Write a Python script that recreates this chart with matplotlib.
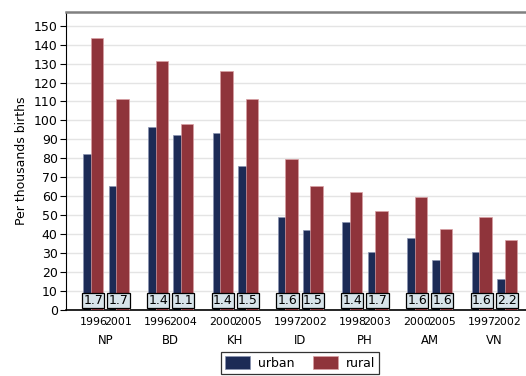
import matplotlib.pyplot as plt
import numpy as np
from matplotlib.patches import Patch
from matplotlib.transforms import blended_transform_factory

countries = ['NP', 'BD', 'KH', 'ID', 'PH', 'AM', 'VN']
years = [['1996', '2001'], ['1996', '2004'], ['2000', '2005'], ['1997', '2002'],
         ['1998', '2003'], ['2000', '2005'], ['1997', '2002']]
urban = [[82.5, 65.5], [96.5, 92.5], [93.5, 76.0], [48.8, 42.4],
         [46.3, 30.6], [37.9, 26.4], [30.6, 16.4]]
rural = [[143.5, 111.2], [131.5, 98.2], [126.3, 111.2], [79.8, 65.5],
         [62.3, 52.3], [59.7, 42.6], [48.8, 36.8]]
ratios = [['1.7', '1.7'], ['1.4', '1.1'], ['1.4', '1.5'], ['1.6', '1.5'],
          ['1.4', '1.7'], ['1.6', '1.6'], ['1.6', '2.2']]

c_urban = '#1c2b56'
c_rural = '#8f343b'

fig = plt.figure(figsize=(5.26, 3.76), dpi=100)
ax = fig.add_axes([66/526, 66/376, 460/526, 298/376])

px = 1/64.75          # one pixel in x units (group pitch = 1)
step = 25.2 * px      # offset between the two surveys in a group
for g in range(len(countries)):
    for j in range(2):
        c = g + j*step
        ax.bar(c - 10*px, urban[g][j], width=12*px, align='edge',
               color=c_urban, edgecolor='#8a93b0', linewidth=0.5, zorder=2)
        ax.bar(c - 2.4*px, rural[g][j], width=12.4*px, align='edge',
               color=c_rural, edgecolor='#d9a0a4', linewidth=0.5, zorder=3)
        ax.text(c, 5.0, ratios[g][j], ha='center', va='center', fontsize=9,
                color='black', zorder=4,
                bbox=dict(boxstyle='square,pad=0.1', fc='#d8e4ea',
                          ec='black', lw=0.9))

trans = blended_transform_factory(ax.transData, ax.transAxes)
for g in range(len(countries)):
    for j in range(2):
        ax.text(g + j*step, -0.039, years[g][j], transform=trans,
                ha='center', va='center', fontsize=7.9)
    ax.text(g + step/2, -0.104, countries[g], transform=trans,
            ha='center', va='center', fontsize=8.4)

ax.set_xlim(-27.3*px, 432.7*px)
ax.set_ylim(0, 157.2)
ax.set_xticks([])
ax.set_yticks(np.arange(0, 151, 10))
ax.tick_params(axis='y', length=4, width=0.8, labelsize=9, pad=2)
ax.yaxis.grid(True, color='#e4e4e4', linewidth=1.0)
ax.set_axisbelow(True)
ax.set_ylabel('Per thousands births', fontsize=9, labelpad=4)

ax.spines['right'].set_visible(False)
ax.spines['top'].set_color('#808080')
ax.spines['top'].set_linewidth(1.8)
ax.spines['left'].set_linewidth(0.8)
ax.spines['bottom'].set_linewidth(1.2)

handles = [Patch(fc=c_urban, ec='#8a93b0', lw=0.5, label='urban'),
           Patch(fc=c_rural, ec='#d9a0a4', lw=0.5, label='rural')]
leg = fig.legend(handles=handles, loc='upper center', ncol=2,
                 bbox_to_anchor=(300/526, 1 - 352/376), fontsize=9,
                 frameon=True, fancybox=False, edgecolor='black',
                 handlelength=2.0, handleheight=1.2, handletextpad=0.6,
                 columnspacing=1.5, borderpad=0.35, borderaxespad=0)
leg.get_frame().set_linewidth(0.9)

plt.savefig('out.png', dpi=100)
